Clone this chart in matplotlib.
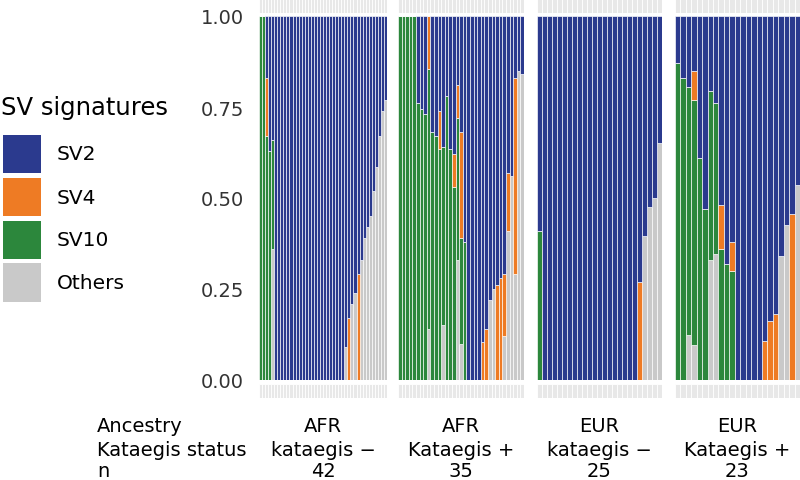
import matplotlib
matplotlib.use("Agg")
import matplotlib.pyplot as plt
import numpy as np

# ---------------- data ----------------
signatures = ["SV2", "SV4", "SV10", "Others"]
sig_colors = {"SV2": "#2B3A8E", "SV4": "#EE7B24", "SV10": "#2C873C", "Others": "#C9C9C9"}
stack_order = ["Others", "SV10", "SV4", "SV2"]  # bottom -> top

ancestry = ["AFR", "AFR", "EUR", "EUR"]
kataegis = ["kataegis \u2212", "Kataegis +", "kataegis \u2212", "Kataegis +"]
n_samples = ["42", "35", "25", "23"]
y_ticks = [0.0, 0.25, 0.5, 0.75, 1.0]
y_tick_labels = ["0.00", "0.25", "0.50", "0.75", "1.00"]

# Facet 1: AFR kataegis -  (42 samples)
f1_others = [0, 0, 0, 0, .36, 0, 0, 0, 0, 0, 0, 0, 0, 0, 0, 0, 0, 0, 0, 0, 0, 0, 0, 0, 0, 0, 0, 0,
             .09, 0, .21, .24, 0, .33, .39, .42, .45, .52, .585, .67, .74, .77]
f1_sv10 = [1, 1, .67, .63, .30, 0, 0, 0, 0, 0, 0, 0, 0, 0, 0, 0, 0, 0, 0, 0, 0, 0, 0, 0, 0, 0, 0, 0,
           0, 0, 0, 0, 0, 0, 0, 0, 0, 0, 0, 0, 0, 0]
f1_sv4 = [0, 0, .16, 0, 0, 0, 0, 0, 0, 0, 0, 0, 0, 0, 0, 0, 0, 0, 0, 0, 0, 0, 0, 0, 0, 0, 0, 0,
          0, .17, 0, 0, .29, 0, 0, 0, 0, 0, 0, 0, 0, 0]
f1_sv2 = [0, 0, .17, .37, .34, 1, 1, 1, 1, 1, 1, 1, 1, 1, 1, 1, 1, 1, 1, 1, 1, 1, 1, 1, 1, 1, 1, 1,
          .91, .83, .79, .76, .71, .67, .61, .58, .55, .48, .415, .33, .26, .23]

# Facet 2: AFR Kataegis +  (35 samples)
f2_others = [0, 0, 0, 0, 0, 0, 0, 0, .14, 0, 0, 0, .15, 0, 0, 0, .33, .10, 0,
             0, 0, 0, 0, 0, 0, .22, .25, 0, 0, .12, .41, .56, .29, .85, .84]
f2_sv10 = [1, 1, 1, 1, 1, .76, .745, .73, .715, .68, .67, .635, .49, .78, .635, .53, .39, .29, .38,
           0, 0, 0, 0, 0, 0, 0, 0, 0, 0, 0, 0, 0, 0, 0, 0]
f2_sv4 = [0, 0, 0, 0, 0, 0, 0, 0, .145, 0, 0, .105, 0, 0, 0, .09, .09, .29, 0,
          0, 0, 0, 0, .105, .14, 0, 0, .26, .28, .17, .16, 0, .54, 0, 0]
f2_sv2 = [0, 0, 0, 0, 0, .24, .255, .27, 0, .32, .33, .26, .36, .22, .365, .38, .19, .32, .62,
          1, 1, 1, 1, .895, .86, .78, .75, .74, .72, .71, .43, .44, .17, .15, .16]

# Facet 3: EUR kataegis -  (25 samples)
f3_others = [0, 0, 0, 0, 0, 0, 0, 0, 0, 0, 0, 0, 0, 0, 0, 0, 0, 0, 0, 0, 0, .395, .475, .50, .65]
f3_sv10 = [.41, 0, 0, 0, 0, 0, 0, 0, 0, 0, 0, 0, 0, 0, 0, 0, 0, 0, 0, 0, 0, 0, 0, 0, 0]
f3_sv4 = [0, 0, 0, 0, 0, 0, 0, 0, 0, 0, 0, 0, 0, 0, 0, 0, 0, 0, 0, 0, .27, 0, 0, 0, 0]
f3_sv2 = [.59, 1, 1, 1, 1, 1, 1, 1, 1, 1, 1, 1, 1, 1, 1, 1, 1, 1, 1, 1, .73, .605, .525, .50, .35]

# Facet 4: EUR Kataegis +  (23 samples)
f4_others = [0, 0, .125, .095, 0, 0, .33, .345, 0, 0, 0, 0, 0, 0, 0, 0, 0, 0, 0, .34, .425, 0, .535]
f4_sv10 = [.87, .83, .68, .675, .61, .47, .465, .415, .36, .32, .30, 0, 0, 0, 0, 0, 0, 0, 0, 0, 0, 0, 0]
f4_sv4 = [0, 0, 0, .08, 0, 0, 0, 0, .12, 0, .08, 0, 0, 0, 0, 0, .107, .163, .18, 0, 0, .456, 0]
f4_sv2 = [.13, .17, .195, .15, .39, .53, .205, .24, .52, .68, .62, 1, 1, 1, 1, 1, .893, .837, .82,
          .66, .575, .544, .465]

facets = [
    {"Others": f1_others, "SV10": f1_sv10, "SV4": f1_sv4, "SV2": f1_sv2},
    {"Others": f2_others, "SV10": f2_sv10, "SV4": f2_sv4, "SV2": f2_sv2},
    {"Others": f3_others, "SV10": f3_sv10, "SV4": f3_sv4, "SV2": f3_sv2},
    {"Others": f4_others, "SV10": f4_sv10, "SV4": f4_sv4, "SV2": f4_sv2},
]

# ---------------- layout ----------------
W, H = 800, 481
fig = plt.figure(figsize=(W / 100, H / 100), dpi=100)
FS = 14


def ax_px(x0, y0, x1, y1):
    return fig.add_axes([x0 / W, 1 - y1 / H, (x1 - x0) / W, (y1 - y0) / H])


panel_x = [(259, 387), (398, 524), (537, 662), (675, 800)]
strip_color = "#E8E8E8"

for i, (data, (x0, x1)) in enumerate(zip(facets, panel_x)):
    n = len(data["SV2"])
    pos = np.arange(n)
    ax = ax_px(x0, 17, x1, 381)
    bottom = np.zeros(n)
    for sig in stack_order:
        vals = np.array(data[sig], dtype=float)
        ax.bar(pos, vals, bottom=bottom, width=1.0, color=sig_colors[sig],
               edgecolor="white", linewidth=0.45)
        bottom += vals
    ax.set_xlim(-0.5, n - 0.5)
    ax.set_ylim(0, 1)
    for s in ax.spines.values():
        s.set_visible(False)
    ax.set_xticks([])
    if i == 0:
        ax.set_yticks(y_ticks)
        ax.set_yticklabels(y_tick_labels, fontsize=FS, color="#333333")
        ax.tick_params(axis="y", length=0, pad=11)
    else:
        ax.set_yticks([])

    # annotation strips above and below
    for (ya, yb) in [(0, 14), (385, 399)]:
        sa = ax_px(x0, ya, x1, yb)
        sa.bar(pos, np.ones(n), width=1.0, color=strip_color, edgecolor="white", linewidth=0.6)
        sa.set_xlim(-0.5, n - 0.5)
        sa.set_ylim(0, 1)
        sa.axis("off")

    cx = (x0 + x1) / 2 / W
    for txt, yy in zip([ancestry[i], kataegis[i], n_samples[i]], [427, 450, 472]):
        fig.text(cx, 1 - yy / H, txt, ha="center", va="center", fontsize=FS, color="black")

# row labels of the bottom table
for txt, yy in zip(["Ancestry", "Kataegis status", "n"], [427, 450, 472]):
    fig.text(97 / W, 1 - yy / H, txt, ha="left", va="center", fontsize=FS, color="black")

# ---------------- legend ----------------
fig.text(1 / W, 1 - 108 / H, "SV signatures", ha="left", va="center", fontsize=17.5, color="black")
key_y = [(136, 174), (179, 217), (222, 260), (264, 303)]
for sig, (ya, yb) in zip(signatures, key_y):
    kax = ax_px(3, ya, 41, yb)
    kax.set_facecolor(sig_colors[sig])
    kax.set_xticks([])
    kax.set_yticks([])
    for s in kax.spines.values():
        s.set_visible(False)
    fig.text(57 / W, 1 - ((ya + yb) / 2) / H, sig, ha="left", va="center", fontsize=14.5, color="black")

fig.savefig("out.png", dpi=100)
